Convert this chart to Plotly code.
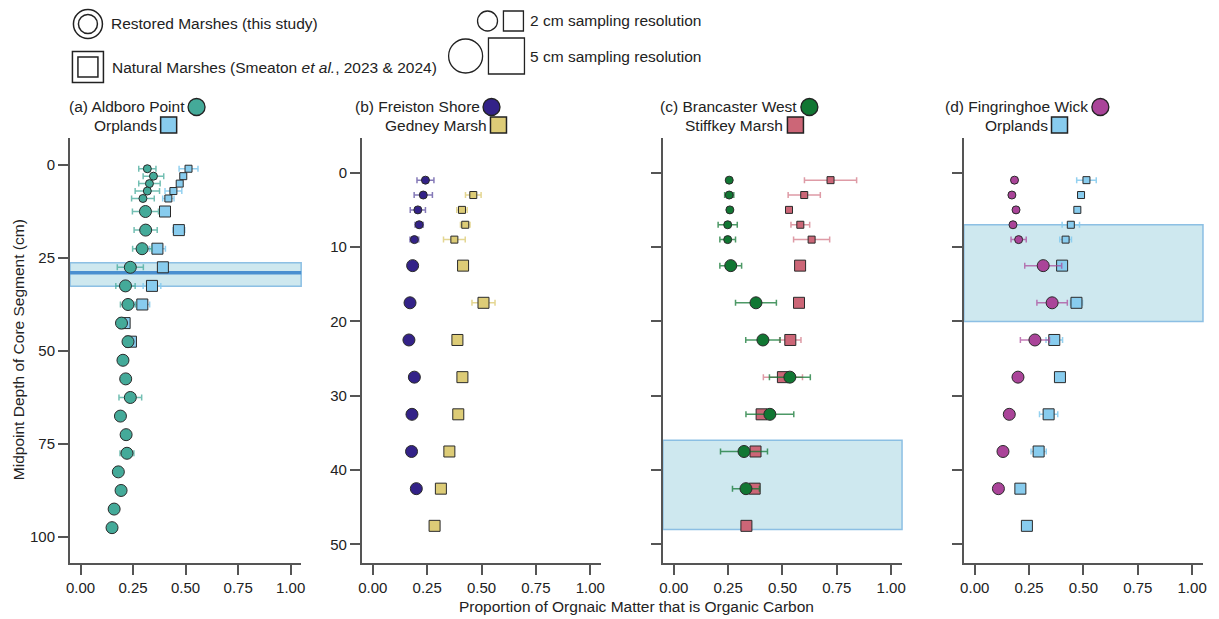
import plotly.graph_objects as go

# ---------------- data ----------------
depth_2cm = [1, 3, 5, 7, 9]
depth_5cm = [12.5, 17.5, 22.5, 27.5, 32.5, 37.5, 42.5, 47.5, 52.5, 57.5,
             62.5, 67.5, 72.5, 77.5, 82.5, 87.5, 92.5, 97.5]

aldboro_2 = [0.318, 0.347, 0.328, 0.318, 0.297]
aldboro_2_err = [0.041, 0.049, 0.051, 0.058, 0.054]
aldboro_5 = [0.309, 0.310, 0.293, 0.237, 0.214, 0.226, 0.195, 0.226, 0.202, 0.215,
             0.237, 0.190, 0.217, 0.221, 0.180, 0.193, 0.160, 0.150]
aldboro_5_err = [0.062, 0.055, 0.045, 0.062, 0.046, 0.036, 0, 0, 0, 0,
                 0.054, 0, 0, 0.033, 0, 0, 0, 0]

orplands_2 = [0.514, 0.489, 0.472, 0.442, 0.418]
orplands_2_err = [0.045, 0.010, 0.010, 0.040, 0.027]
orplands_5 = [0.402, 0.468, 0.366, 0.392, 0.340, 0.294, 0.210, 0.240]
orplands_5_err = [0.0, 0.028, 0.038, 0.0, 0.042, 0.035, 0.0, 0.010]

freiston_2 = [0.242, 0.232, 0.207, 0.213, 0.191]
freiston_2_err = [0.039, 0.042, 0.035, 0.019, 0.020]
freiston_5 = [0.183, 0.171, 0.166, 0.191, 0.180, 0.178, 0.200]
freiston_5_err = [0.005, 0, 0, 0, 0, 0, 0.010]

gedney_depth_2 = [3, 5, 7, 9]
gedney_2 = [0.462, 0.410, 0.425, 0.375]
gedney_2_err = [0.036, 0.024, 0.022, 0.050]
gedney_5 = [0.415, 0.509, 0.389, 0.412, 0.393, 0.352, 0.313, 0.284]
gedney_5_err = [0, 0.053, 0, 0, 0, 0.010, 0, 0.010]

brancaster_2 = [0.255, 0.255, 0.258, 0.248, 0.248]
brancaster_2_err = [0.005, 0.021, 0.010, 0.044, 0.036]
brancaster_5 = [0.262, 0.378, 0.410, 0.534, 0.442, 0.323, 0.332]
brancaster_5_err = [0.050, 0.094, 0.079, 0.094, 0.110, 0.108, 0.062]

stiffkey_2 = [0.721, 0.600, 0.530, 0.582, 0.634]
stiffkey_2_err = [0.120, 0.074, 0.010, 0.043, 0.083]
stiffkey_5 = [0.581, 0.576, 0.536, 0.502, 0.404, 0.376, 0.372, 0.334]
stiffkey_5_err = [0, 0.010, 0.049, 0.090, 0.020, 0.020, 0.010, 0.010]

fingringhoe_2 = [0.183, 0.171, 0.190, 0.176, 0.202]
fingringhoe_2_err = [0.010, 0.010, 0.010, 0.005, 0.035]
fingringhoe_5 = [0.315, 0.356, 0.277, 0.199, 0.159, 0.130, 0.109]
fingringhoe_5_err = [0.085, 0.070, 0.067, 0.020, 0.010, 0, 0]

x_tickvals = [0, 0.25, 0.5, 0.75, 1.0]
x_ticktext = ["0.00", "0.25", "0.50", "0.75", "1.00"]
y_ticks_a = [0, 25, 50, 75, 100]
y_ticks_bcd = [0, 10, 20, 30, 40, 50]

# shaded depth bands per panel (cm)
band_a = (26.3, 32.6)
band_a_line = 29
band_c = (36, 48)
band_d = (7, 20)

panel_titles = [
    ("(a) Aldboro Point", "Orplands"),
    ("(b) Freiston Shore", "Gedney Marsh"),
    ("(c) Brancaster West", "Stiffkey Marsh"),
    ("(d) Fingringhoe Wick", "Orplands"),
]

# colours
C_TEAL = "#44AA99"
C_CYAN = "#88CCEE"
C_INDIGO = "#332288"
C_SAND = "#DDCC77"
C_GREEN = "#117733"
C_ROSE = "#CC6677"
C_PURPLE = "#AA4499"

# ---------------- layout geometry ----------------
W, H = 1219, 619
ML, MR, MT, MB = 70, 12, 138, 56
PW = W - ML - MR
PH = H - MT - MB


def px(x):
    return (x - ML) / PW


def py(y):
    return (H - MB - y) / PH


panel_px = [(70, 302), (363, 603), (665, 905), (967, 1207)]
domains = [[px(a), px(b)] for a, b in panel_px]

FONT = "Arial, Liberation Sans, sans-serif"
TXT = "#222222"
AX = "#555555"
ANN_SIZE = 15.5

fig = go.Figure()


def rgba(hexc, a):
    h = hexc.lstrip("#")
    r, g, b = int(h[0:2], 16), int(h[2:4], 16), int(h[4:6], 16)
    return f"rgba({r},{g},{b},{a})"


def add_series(k, xs, ys, errs, color, symbol, size, err_alpha):
    axis_suffix = "" if k == 1 else str(k)
    fig.add_trace(go.Scatter(
        x=xs, y=ys, mode="markers",
        xaxis="x" + axis_suffix, yaxis="y" + axis_suffix,
        marker=dict(symbol=symbol, size=size, color=color,
                    line=dict(color="#2a2a2a", width=1)),
        error_x=dict(type="data", array=errs, visible=True,
                     color=rgba(color, err_alpha), thickness=1.5, width=3),
        showlegend=False, hoverinfo="x+y",
    ))


SQ2, SQ5, CI2, CI5 = 7, 11, 8, 12

# panel a
add_series(1, orplands_2, depth_2cm, orplands_2_err, C_CYAN, "square", SQ2, 0.9)
add_series(1, orplands_5, depth_5cm[:len(orplands_5)], orplands_5_err, C_CYAN, "square", SQ5, 0.9)
add_series(1, aldboro_2, depth_2cm, aldboro_2_err, C_TEAL, "circle", CI2, 0.75)
add_series(1, aldboro_5, depth_5cm[:len(aldboro_5)], aldboro_5_err, C_TEAL, "circle", CI5, 0.75)
# panel b
add_series(2, gedney_2, gedney_depth_2, gedney_2_err, C_SAND, "square", SQ2, 0.8)
add_series(2, gedney_5, depth_5cm[:len(gedney_5)], gedney_5_err, C_SAND, "square", SQ5, 0.8)
add_series(2, freiston_2, depth_2cm, freiston_2_err, C_INDIGO, "circle", CI2, 0.6)
add_series(2, freiston_5, depth_5cm[:len(freiston_5)], freiston_5_err, C_INDIGO, "circle", CI5, 0.6)
# panel c
add_series(3, stiffkey_2, depth_2cm, stiffkey_2_err, C_ROSE, "square", SQ2, 0.65)
add_series(3, stiffkey_5, depth_5cm[:len(stiffkey_5)], stiffkey_5_err, C_ROSE, "square", SQ5, 0.65)
add_series(3, brancaster_2, depth_2cm, brancaster_2_err, C_GREEN, "circle", CI2, 0.75)
add_series(3, brancaster_5, depth_5cm[:len(brancaster_5)], brancaster_5_err, C_GREEN, "circle", CI5, 0.75)
# panel d
add_series(4, orplands_2, depth_2cm, orplands_2_err, C_CYAN, "square", SQ2, 0.9)
add_series(4, orplands_5, depth_5cm[:len(orplands_5)], orplands_5_err, C_CYAN, "square", SQ5, 0.9)
add_series(4, fingringhoe_2, depth_2cm, fingringhoe_2_err, C_PURPLE, "circle", CI2, 0.7)
add_series(4, fingringhoe_5, depth_5cm[:len(fingringhoe_5)], fingringhoe_5_err, C_PURPLE, "circle", CI5, 0.7)

layout = dict(
    width=W, height=H,
    margin=dict(l=ML, r=MR, t=MT, b=MB),
    paper_bgcolor="white", plot_bgcolor="white",
    font=dict(family=FONT, size=15, color=TXT),
    showlegend=False,
)

yranges = [[107.0, -7.26], [52.5, -4.67], [52.5, -4.67], [52.5, -4.67]]
for i in range(4):
    s = "" if i == 0 else str(i + 1)
    layout["xaxis" + s] = dict(
        domain=domains[i], anchor="y" + s, range=[-0.05, 1.05],
        tickvals=x_tickvals, ticktext=x_ticktext,
        showline=True, linecolor=AX, linewidth=2, mirror=False,
        ticks="outside", ticklen=10, tickwidth=1.5, tickcolor=AX,
        showgrid=False, zeroline=False,
        tickfont=dict(size=15, color=TXT, family=FONT),
    )
    layout["yaxis" + s] = dict(
        domain=[0, 1], anchor="x" + s, range=yranges[i],
        tickvals=y_ticks_a if i == 0 else y_ticks_bcd,
        showticklabels=(i < 2),
        showline=True, linecolor=AX, linewidth=2,
        ticks="outside", ticklen=10, tickwidth=1.5, tickcolor=AX,
        showgrid=False, zeroline=False,
        tickfont=dict(size=15, color=TXT, family=FONT),
    )

BAND_FILL = "rgba(190,224,234,0.75)"
BAND_LINE = "rgba(130,185,225,0.9)"
shapes = []


def add_band(k, y0, y1):
    s = "" if k == 1 else str(k)
    shapes.append(dict(type="rect", xref="x" + s + " domain", yref="y" + s,
                       x0=0, x1=1, y0=y0, y1=y1, fillcolor=BAND_FILL,
                       line=dict(color=BAND_LINE, width=1.5), layer="below"))


add_band(1, *band_a)
shapes.append(dict(type="line", xref="x domain", yref="y", x0=0, x1=1,
                   y0=band_a_line, y1=band_a_line,
                   line=dict(color="#4A8FD0", width=3.5), layer="below"))
add_band(3, *band_c)
add_band(4, *band_d)


def pix_shape(kind, cx, cy, size, lw=1.5, fill="white", line="#222222"):
    h = size / 2.0
    shapes.append(dict(type=kind, xref="paper", yref="paper",
                       xsizemode="pixel", ysizemode="pixel",
                       xanchor=px(cx), yanchor=py(cy),
                       x0=-h, x1=h, y0=-h, y1=h,
                       fillcolor=fill, line=dict(color=line, width=lw),
                       layer="above"))


annotations = []


def text_at(x, y, text, xanchor="left", size=ANN_SIZE, angle=0):
    annotations.append(dict(xref="paper", yref="paper", x=px(x), y=py(y),
                            text=text, showarrow=False, xanchor=xanchor,
                            yanchor="middle", textangle=angle,
                            font=dict(size=size, color=TXT, family=FONT)))


# top legend
pix_shape("circle", 88, 24, 29, lw=1.5)
pix_shape("circle", 88, 24, 19, lw=1.5, fill="rgba(0,0,0,0)")
text_at(109, 24, "Restored Marshes (this study)")
pix_shape("rect", 88, 67, 31, lw=1.5)
pix_shape("rect", 88, 67, 20, lw=1.5, fill="rgba(0,0,0,0)")
text_at(110, 67, "Natural Marshes (Smeaton <i>et al.</i>, 2023 &amp; 2024)")
pix_shape("circle", 489, 21, 20, lw=1.3)
pix_shape("rect", 515, 21, 20, lw=1.3)
text_at(530, 21, "2 cm sampling resolution")
pix_shape("circle", 467, 56, 34, lw=1.3)
pix_shape("rect", 508, 56, 36, lw=1.3)
text_at(530, 56, "5 cm sampling resolution")

# panel titles with symbols
title_geom = [
    # (circle cx, square cx)
    (197, 169),
    (493, 500),
    (812, 798),
    (1104, 1063),
]
series_cols = [(C_TEAL, C_CYAN), (C_INDIGO, C_SAND), (C_GREEN, C_ROSE), (C_PURPLE, C_CYAN)]
for (t1, t2), (ccx, scx), (cc, sc) in zip(panel_titles, title_geom, series_cols):
    pix_shape("circle", ccx, 107, 17, lw=1.3, fill=cc)
    pix_shape("rect", scx, 125, 16, lw=1.5, fill=sc)
    text_at(ccx - 10, 107, t1, xanchor="right")
    text_at(scx - 10, 125, t2, xanchor="right")

# axis titles
text_at(638, 606, "Proportion of Orgnaic Matter that is Organic Carbon", xanchor="center")
text_at(18, 350, "Midpoint Depth of Core Segment (cm)", xanchor="center", angle=-90)

layout["shapes"] = shapes
layout["annotations"] = annotations
fig.update_layout(**layout)
fig.write_html("out.html",
               config={"displayModeBar": False},
               post_script="document.body.style.margin='0';document.body.style.overflow='hidden';")
